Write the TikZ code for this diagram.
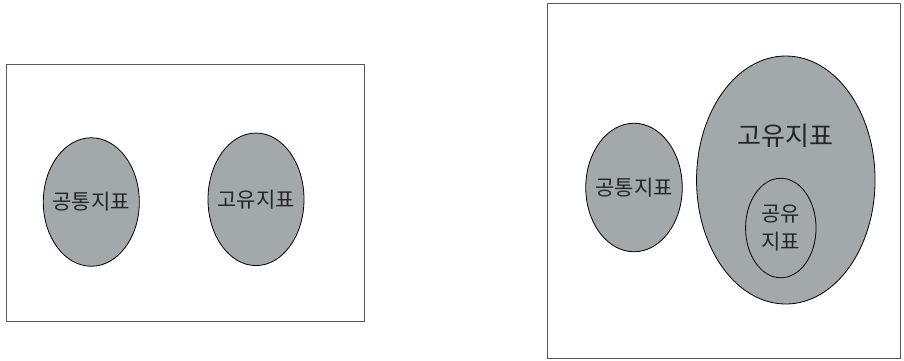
\documentclass[tikz,border=0pt]{standalone}
\usepackage{fontspec}
\newfontfamily\kr{Noto Sans CJK KR}
\usetikzlibrary{shapes.geometric}
\definecolor{blobgray}{RGB}{163,168,171}
\definecolor{framegray}{RGB}{90,90,90}
\tikzset{
  frame/.style={draw=framegray, line width=1pt, fill=white},
  blob/.style={ellipse, draw=black, line width=0.8pt, fill=blobgray, inner sep=0pt},
  lbl/.style={inner sep=0pt, text=black!85, align=center, font=\kr\fontsize{21}{24}\selectfont}
}
\begin{document}
\begin{tikzpicture}[x=1pt,y=-1pt]
\useasboundingbox (0,0) rectangle (904,360);
% left panel
\node[frame, minimum width=358pt, minimum height=257pt, inner sep=0pt] (leftframe) at (185.5,193) {};
\node[blob, minimum width=96pt, minimum height=128.5pt] (common1) at (91.3,202) {};
\node[lbl] (common1label) at (common1.center) {공통지표};
\node[blob, minimum width=96pt, minimum height=132.5pt] (unique1) at (256,199.3) {};
\node[lbl] (unique1label) at (unique1.center) {고유지표};
% right panel
\node[frame, minimum width=353pt, minimum height=355pt, inner sep=0pt] (rightframe) at (723.5,180.5) {};
\node[blob, minimum width=96.5pt, minimum height=128.5pt] (common2) at (634,187.5) {};
\node[lbl] (common2label) at (common2.center) {공통지표};
\node[blob, minimum width=178.5pt, minimum height=248pt] (unique2) at (785.8,180) {};
\node[lbl, font=\kr\fontsize{26}{30}\selectfont] (unique2label) at (785.7,136) {고유지표};
\node[blob, minimum width=70.5pt, minimum height=99.5pt] (shared) at (780.8,228) {};
\node[lbl, font=\kr\fontsize{21}{28}\selectfont] (sharedlabel) at (shared.center) {공유\\지표};
\end{tikzpicture}
\end{document}
